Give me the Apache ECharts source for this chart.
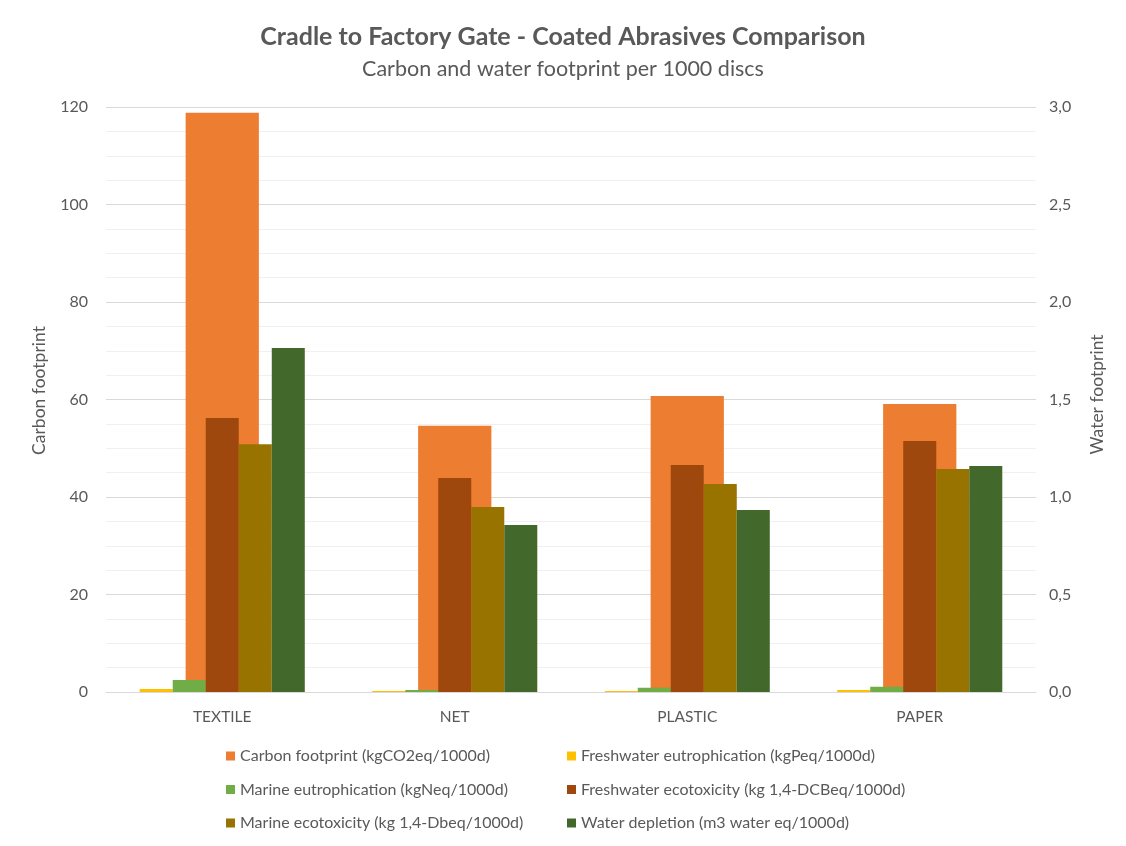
<!DOCTYPE html>
<html>
<head>
<meta charset="utf-8">
<script src="https://cdn.jsdelivr.net/npm/echarts@6/dist/echarts.min.js"></script>
<style>
  html, body { margin: 0; padding: 0; background: #fff; }
  #chart { width: 1126px; height: 846px; }
</style>
</head>
<body>
<div id="chart"></div>
<script>
// Product categories
const categories = ['TEXTILE', 'NET', 'PLASTIC', 'PAPER'];

// Carbon footprint (primary axis)
const carbonFootprint = [118.8, 54.6, 60.7, 59.1];

// Water-related indicators (secondary axis)
const freshwaterEutrophication = [0.015, 0.005, 0.005, 0.01];
const marineEutrophication = [0.062, 0.01, 0.022, 0.027];
const freshwaterEcotoxicity = [1.405, 1.097, 1.164, 1.287];
const marineEcotoxicity = [1.27, 0.949, 1.067, 1.144];
const waterDepletion = [1.764, 0.856, 0.933, 1.159];

const seriesNames = [
  'Carbon footprint (kgCO2eq/1000d)',
  'Freshwater eutrophication (kgPeq/1000d)',
  'Marine eutrophication (kgNeq/1000d)',
  'Freshwater ecotoxicity (kg 1,4-DCBeq/1000d)',
  'Marine ecotoxicity (kg 1,4-Dbeq/1000d)',
  'Water depletion (m3 water eq/1000d)'
];

const colors = ['#ED7D31', '#FFC000', '#70AD47', '#9E480E', '#997300', '#43682B'];
const textColor = '#595959';
const fontFamily = 'Lato, Open Sans, sans-serif';

const chart = echarts.init(document.getElementById('chart'));

const waterSeries = [
  freshwaterEutrophication, marineEutrophication,
  freshwaterEcotoxicity, marineEcotoxicity, waterDepletion
].map((data, i) => ({
  name: seriesNames[i + 1],
  type: 'bar',
  xAxisIndex: 0,
  yAxisIndex: 1,
  data: data,
  barGap: '0%',
  barCategoryGap: '29%',
  itemStyle: { color: colors[i + 1] },
  z: 3
}));

const legendText = { color: textColor, fontSize: 16, fontFamily: fontFamily };
const legendBase = {
  orient: 'vertical', top: 748, itemGap: 17.5, padding: 0,
  itemWidth: 9, itemHeight: 9, icon: 'rect',
  textStyle: legendText, selectedMode: false
};

chart.setOption({
  animation: false,
  textStyle: { fontFamily: fontFamily },
  title: [
    {
      text: 'Cradle to Factory Gate - Coated Abrasives Comparison',
      left: 'center', top: 24, padding: 0,
      textStyle: { color: textColor, fontSize: 25, fontWeight: 'bold', fontFamily: fontFamily }
    },
    {
      text: 'Carbon and water footprint per 1000 discs',
      left: 'center', top: 58, padding: 0,
      textStyle: { color: textColor, fontSize: 21.5, fontWeight: 'normal', fontFamily: fontFamily }
    }
  ],
  legend: [
    Object.assign({ data: [seriesNames[0], seriesNames[2], seriesNames[4]], left: 226 }, legendBase),
    Object.assign({ data: [seriesNames[1], seriesNames[3], seriesNames[5]], left: 567 }, legendBase)
  ],
  grid: { left: 106, right: 90, top: 107, bottom: 154 },
  xAxis: [
    {
      type: 'category',
      data: categories,
      axisLine: { lineStyle: { color: '#d9d9d9', width: 1 } },
      axisTick: { show: false },
      axisLabel: { color: textColor, fontSize: 15.5, margin: 17, fontFamily: fontFamily }
    },
    {
      type: 'category',
      data: categories,
      show: false
    }
  ],
  yAxis: [
    {
      type: 'value',
      min: 0, max: 120, interval: 20,
      name: 'Carbon footprint',
      nameLocation: 'middle', nameGap: 58,
      nameTextStyle: { color: textColor, fontSize: 17.5, fontFamily: fontFamily, padding: [0, 0, 0, 18] },
      axisLine: { show: false },
      axisTick: { show: false },
      axisLabel: { color: textColor, fontSize: 16, margin: 18, fontFamily: fontFamily },
      splitLine: { show: true, lineStyle: { color: '#d9d9d9' } },
      minorTick: { show: false, splitNumber: 4 },
      minorSplitLine: { show: true, lineStyle: { color: '#f0f0f0' } }
    },
    {
      type: 'value',
      min: 0, max: 3, interval: 0.5,
      name: 'Water footprint',
      nameLocation: 'middle', nameGap: 52,
      nameTextStyle: { color: textColor, fontSize: 17.5, fontFamily: fontFamily, padding: [0, 0, 0, 10] },
      axisLine: { show: false },
      axisTick: { show: false },
      axisLabel: {
        color: textColor, fontSize: 16, margin: 13, fontFamily: fontFamily,
        formatter: v => v.toFixed(1).replace('.', ',')
      },
      splitLine: { show: false }
    }
  ],
  series: [
    {
      name: seriesNames[0],
      type: 'bar',
      xAxisIndex: 1,
      yAxisIndex: 0,
      data: carbonFootprint,
      barWidth: '31.5%',
      itemStyle: { color: colors[0] },
      z: 2
    },
    ...waterSeries
  ]
});
</script>
</body>
</html>
